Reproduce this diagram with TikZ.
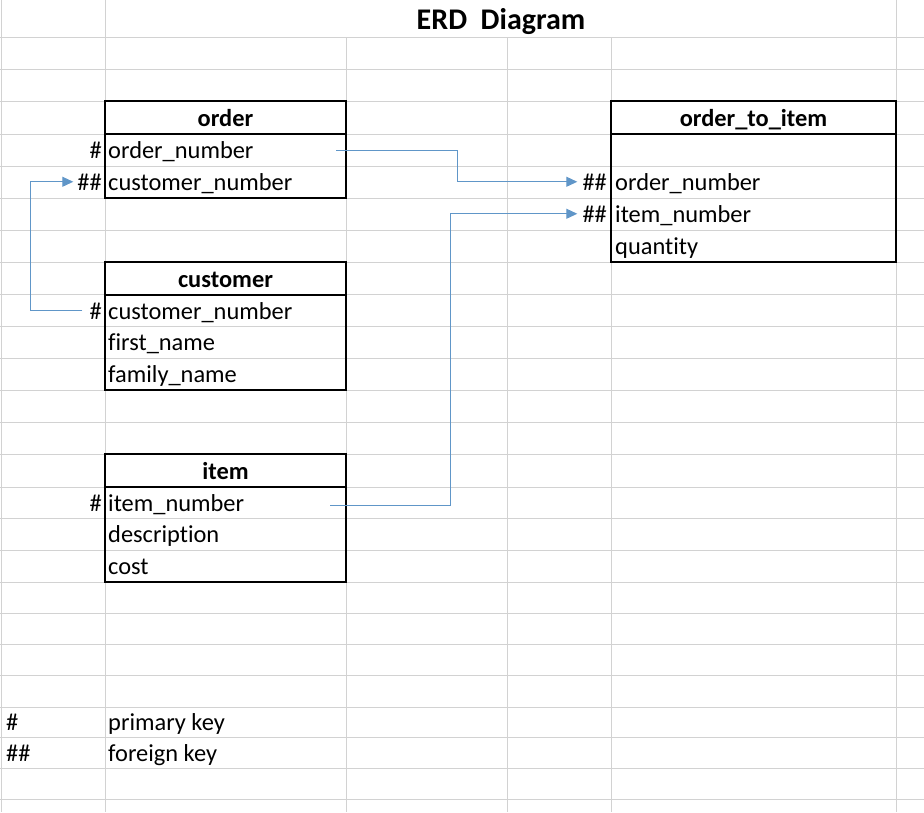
\documentclass[tikz,border=0pt]{standalone}
\usepackage{fontspec}
\setmainfont{Carlito}[Ligatures=NoCommon]
\usetikzlibrary{arrows.meta}

\definecolor{azulFlecha}{RGB}{96,150,200}
\definecolor{rejilla}{RGB}{210,210,210}

\begin{document}
\begin{tikzpicture}[x=1pt,y=-1pt]

    \tikzset{campo/.style = {anchor=base west,inner sep=0pt,font=\fontsize{24.4}{28}\selectfont}}
    \tikzset{clave/.style = {anchor=base east,inner sep=0pt,font=\fontsize{24.4}{28}\selectfont}}
    \tikzset{cabecera/.style = {draw,line width=2pt,inner sep=0pt,text height=20pt,text depth=3pt,font=\bfseries\fontsize{24.4}{28}\selectfont}}
    \tikzset{cuerpo/.style = {draw,line width=2pt,inner sep=0pt}}
    \tikzset{titulo/.style = {anchor=base,inner sep=0pt,font=\bfseries\fontsize{30}{34}\selectfont}}
    \tikzset{flecha/.style = {-{Triangle[length=11pt,width=10pt]},azulFlecha,line width=1pt,shorten >=5pt}}

    \useasboundingbox (0,0) rectangle (924,812);

    %rejilla de la hoja
    \foreach \y in {37,69,101,134,166,198,230,262,294,326,358,390,422,454,487,518,550,582,613,644,675,707,737,768,799}
        \draw [rejilla,line width=1pt] (0,\y) -- (924,\y);
    \foreach \x in {1.5,105,896}
        \draw [rejilla,line width=1pt] (\x,0) -- (\x,812);
    \foreach \x in {346,507,611}
        \draw [rejilla,line width=1pt] (\x,37) -- (\x,812);

    \node [titulo] (titulo) at (501,29) {ERD\ \ Diagram};


    %tabla order
    \node [cabecera,minimum width=241pt,minimum height=33pt] (orderTit) at (225.5,117.5) {order};
    \node [cuerpo,minimum width=241pt,minimum height=64pt] (orderCuerpo) at (225.5,166) {};
    \node [clave] (pkOrden) at (102,158) {\#};
    \node [campo] (orderNum) at (108,158) {order\_number};
    \node [clave] (fkCliente) at (102,190) {\#\#};
    \node [campo] (orderCli) at (108,190) {customer\_number};


    %tabla customer
    \node [cabecera,minimum width=241pt,minimum height=33pt] (custTit) at (225.5,278.5) {customer};
    \node [cuerpo,minimum width=241pt,minimum height=95pt] (custCuerpo) at (225.5,342.5) {};
    \node [clave] (pkCliente) at (102,319) {\#};
    \node [campo] (custNum) at (108,319) {customer\_number};
    \node [campo] (custNombre) at (108,350) {first\_name};
    \node [campo] (custApellido) at (108,382) {family\_name};


    %tabla item
    \node [cabecera,minimum width=241pt,minimum height=33pt] (itemTit) at (225.5,470.5) {item};
    \node [cuerpo,minimum width=241pt,minimum height=95pt] (itemCuerpo) at (225.5,534.5) {};
    \node [clave] (pkItem) at (102,511) {\#};
    \node [campo] (itemNum) at (108,511) {item\_number};
    \node [campo] (itemDesc) at (108,542) {description};
    \node [campo] (itemCoste) at (108,574) {cost};


    %tabla order_to_item
    \node [cabecera,minimum width=285pt,minimum height=33pt] (oiTit) at (753.5,117.5) {order\_to\_item};
    \node [cuerpo,minimum width=285pt,minimum height=128pt] (oiCuerpo) at (753.5,198) {};
    \node [clave] (fkOrden) at (607,190) {\#\#};
    \node [campo] (oiOrden) at (615,190) {order\_number};
    \node [clave] (fkItem) at (607,222) {\#\#};
    \node [campo] (oiItem) at (615,222) {item\_number};
    \node [campo] (oiCantidad) at (615,254) {quantity};


    %relaciones
    \coordinate (inicioOrden) at (336,150);
    \coordinate (inicioItem) at (330,505.5);
    \draw [flecha] (inicioOrden)
        -- ++(121,0) |- (fkOrden.west);
    \draw [flecha] (inicioItem)
        -- ++(120,0) |- (fkItem.west);
    \draw [flecha,shorten <=7pt,shorten >=4pt] (pkCliente.west)
        -- ++(-59,0) |- (fkCliente.west);


    %leyenda
    \node [campo] (leyPk) at (6,730) {\#};
    \node [campo] (leyPkTexto) at (108,730) {primary key};
    \node [campo] (leyFk) at (6,761) {\#\#};
    \node [campo] (leyFkTexto) at (108,761) {foreign key};

\end{tikzpicture}
\end{document}
